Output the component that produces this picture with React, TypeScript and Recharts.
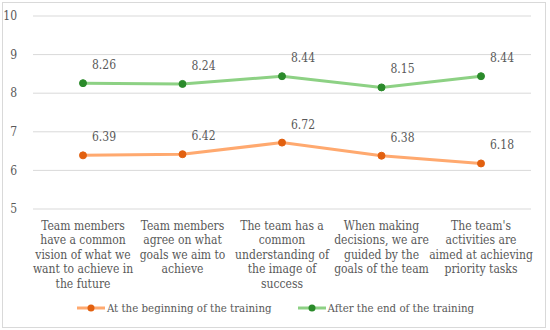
import React from 'react';
import { LineChart, Line, XAxis, YAxis, CartesianGrid, Legend, LabelList } from 'recharts';

const categories = [
  'Team members\nhave a common\nvision of what we\nwant to achieve in\nthe future',
  'Team members\nagree on what\ngoals we aim to\nachieve',
  'The team has a\ncommon\nunderstanding of\nthe image of\nsuccess',
  'When making\ndecisions, we are\nguided by the\ngoals of the team',
  "The team's\nactivities are\naimed at achieving\npriority tasks",
];
const beginning = [6.39, 6.42, 6.72, 6.38, 6.18];
const afterEnd = [8.26, 8.24, 8.44, 8.15, 8.44];
const yTicks = [5, 6, 7, 8, 9, 10];

const FONT = 'DejaVu Serif Condensed';
const FS = 12;
const TEXT = '#595959';
const fontStyle = { fontStretch: 'condensed' as const };

const data = categories.map((c, i) => ({ name: c, begin: beginning[i], after: afterEnd[i] }));

const CategoryTick = ({ x, y, payload }: any) => {
  const lines = String(payload.value).split('\n');
  return (
    <text x={x} y={y} textAnchor="middle" fill={TEXT} fontFamily={FONT} fontSize={FS} style={fontStyle}>
      {lines.map((l, i) => (
        <tspan key={i} x={x} dy={i === 0 ? 12.5 : 14.6}>{l}</tspan>
      ))}
    </text>
  );
};

const ValueLabel = ({ x, y, value }: any) => (
  <text x={x + 21} y={y - 14} textAnchor="middle" fill={TEXT} fontFamily={FONT} fontSize={FS} style={fontStyle}>
    {Number(value).toFixed(2)}
  </text>
);

// legend drawn like the office one: short line with a dot in the middle
const LegendContent = () => (
  <div style={{ display: 'flex', justifyContent: 'center', height: 20, alignItems: 'center', paddingLeft: 20, fontFamily: FONT, fontSize: 11.4, color: TEXT, fontStretch: 'condensed' }}>
    <div style={{ display: 'flex', alignItems: 'center', marginRight: 26 }}>
      <svg width={28} height={10}>
        <line x1={0} y1={5} x2={28} y2={5} stroke="#FFA96F" strokeWidth={3} />
        <circle cx={14} cy={5} r={3.5} fill="#E2600F" />
      </svg>
      <span style={{ marginLeft: 2 }}>At the beginning of the training</span>
    </div>
    <div style={{ display: 'flex', alignItems: 'center' }}>
      <svg width={28} height={10}>
        <line x1={0} y1={5} x2={28} y2={5} stroke="#8DD184" strokeWidth={3} />
        <circle cx={14} cy={5} r={3.5} fill="#2A8A2A" />
      </svg>
      <span style={{ marginLeft: 2 }}>After the end of the training</span>
    </div>
  </div>
);

export default function App() {
  return (
    <div style={{ position: 'absolute', left: 0, top: 0, width: 550, height: 330, background: '#fff' }}>
      <div style={{ position: 'absolute', left: 2, top: 2, width: 542, height: 324, border: '1px solid #d9d9d9' }} />
      <LineChart
        width={550}
        height={330}
        data={data}
        margin={{ top: 16, right: 19, left: 0, bottom: 12 }}
        style={{ position: 'absolute', left: 0, top: 0 }}
      >
        <CartesianGrid vertical={false} stroke="#d9d9d9" strokeWidth={1} />
        <XAxis
          dataKey="name"
          axisLine={false}
          tickLine={false}
          interval={0}
          height={89}
          padding={{ left: 50, right: 50 }}
          tick={<CategoryTick />}
        />
        <YAxis
          domain={[5, 10]}
          ticks={yTicks}
          width={33}
          axisLine={false}
          tickLine={false}
          tick={{ fill: TEXT, fontFamily: FONT, fontSize: FS, style: fontStyle }}
          tickMargin={10}
        />
        <Legend verticalAlign="bottom" content={<LegendContent />} />
        <Line
          dataKey="begin"
          stroke="#FFA96F"
          strokeWidth={3}
          dot={{ r: 3.5, fill: '#E2600F', stroke: '#E2600F', strokeWidth: 1 }}
          isAnimationActive={false}
        >
          <LabelList dataKey="begin" content={<ValueLabel />} />
        </Line>
        <Line
          dataKey="after"
          stroke="#8DD184"
          strokeWidth={3}
          dot={{ r: 3.5, fill: '#2A8A2A', stroke: '#2A8A2A', strokeWidth: 1 }}
          isAnimationActive={false}
        >
          <LabelList dataKey="after" content={<ValueLabel />} />
        </Line>
      </LineChart>
    </div>
  );
}
